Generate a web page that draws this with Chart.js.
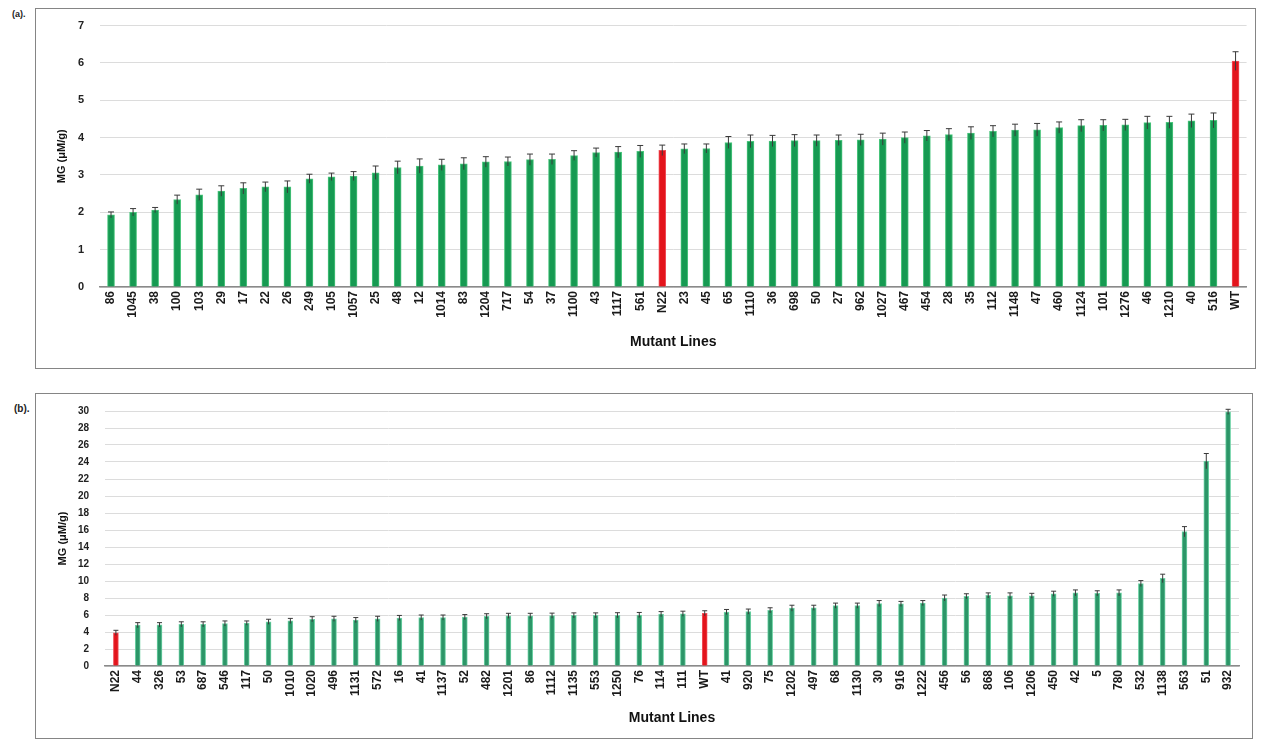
<!DOCTYPE html>
<html>
<head>
<meta charset="utf-8">
<script src="https://cdn.jsdelivr.net/npm/chart.js@4.4.1/dist/chart.umd.min.js"></script>
<style>
  html, body { margin: 0; padding: 0; background: #fff; }
  body { width: 1262px; height: 742px; position: relative; overflow: hidden; font-family: "Liberation Sans", Arial, sans-serif; }
  .panel { position: absolute; border: 1.5px solid #858585; box-sizing: border-box; }
  .tag { position: absolute; font-weight: bold; color: #222; }
  canvas { position: absolute; }
</style>
</head>
<body>
<div class="panel" style="left:35px;top:8px;width:1221px;height:361px;"></div>
<div class="panel" style="left:35px;top:393px;width:1218px;height:346px;"></div>
<div class="tag" style="left:12px;top:9px;font-size:9px;">(a).</div>
<div class="tag" style="left:14px;top:403px;font-size:10px;">(b).</div>
<canvas id="chartA" width="1216" height="364" style="left:38px;top:3px;"></canvas>
<canvas id="chartB" width="1213" height="348" style="left:38px;top:389px;"></canvas>
<script>
// Panel (a): MG content per line, ascending, with N22 and WT controls
const linesA = ["86","1045","38","100","103","29","17","22","26","249","105","1057","25","48","12","1014","83","1204","717","54","37","1100","43","1117","561","N22","23","45","65","1110","36","698","50","27","962","1027","467","454","28","35","112","1148","47","460","1124","101","1276","46","1210","40","516","WT"];
const mgA = [1.93,2.0,2.06,2.34,2.47,2.57,2.64,2.68,2.68,2.9,2.95,2.97,3.06,3.2,3.24,3.27,3.3,3.35,3.36,3.41,3.42,3.52,3.6,3.61,3.63,3.66,3.7,3.71,3.87,3.9,3.91,3.92,3.92,3.93,3.94,3.96,4.0,4.05,4.08,4.12,4.17,4.2,4.21,4.27,4.32,4.33,4.34,4.4,4.41,4.45,4.46,6.05];
const errA = [0.08,0.1,0.07,0.12,0.15,0.14,0.15,0.13,0.16,0.12,0.1,0.12,0.18,0.17,0.19,0.15,0.16,0.14,0.12,0.15,0.14,0.13,0.12,0.15,0.16,0.14,0.13,0.12,0.16,0.17,0.15,0.16,0.15,0.14,0.15,0.16,0.15,0.14,0.16,0.17,0.15,0.16,0.17,0.15,0.16,0.15,0.15,0.17,0.16,0.18,0.2,0.25];
const ticksA = [0,1,2,3,4,5,6,7];

// Panel (b)
const linesB = ["N22","44","326","53","687","546","117","50","1010","1020","496","1131","572","16","41","1137","52","482","1201","86","1112","1135","553","1250","76","114","111","WT","41","920","75","1202","497","68","1130","30","916","1222","456","56","868","106","1206","450","42","5","780","532","1138","563","51","932"];
const mgB = [3.9,4.8,4.85,4.9,4.9,5.0,5.05,5.2,5.3,5.5,5.55,5.4,5.55,5.65,5.7,5.7,5.75,5.85,5.9,5.9,5.92,5.95,5.95,5.97,6.0,6.1,6.15,6.2,6.35,6.4,6.55,6.8,6.85,7.1,7.1,7.35,7.3,7.4,8.0,8.2,8.3,8.25,8.25,8.5,8.6,8.55,8.6,9.7,10.3,15.8,24.1,29.9];
const errB = [0.3,0.3,0.25,0.3,0.3,0.3,0.25,0.3,0.3,0.3,0.3,0.3,0.3,0.3,0.3,0.3,0.3,0.3,0.3,0.3,0.3,0.3,0.3,0.3,0.3,0.3,0.3,0.3,0.3,0.3,0.3,0.35,0.3,0.3,0.3,0.35,0.3,0.3,0.35,0.3,0.3,0.35,0.3,0.3,0.35,0.3,0.35,0.35,0.5,0.6,0.9,0.3];
const ticksB = [0,2,4,6,8,10,12,14,16,18,20,22,24,26,28,30];

const controls = ["N22", "WT"];
const RED = "#e3141c";

// Draws ± error whiskers with caps on top of each bar, using the chart's own scales
const errorBars = {
  id: "errorBars",
  afterDatasetsDraw(chart, args, opts) {
    const { ctx } = chart;
    const yScale = chart.scales.y;
    chart.data.datasets.forEach((ds, di) => {
      const meta = chart.getDatasetMeta(di);
      meta.data.forEach((bar, i) => {
        const v = ds.data[i], e = ds.errors[i];
        const yHi = yScale.getPixelForValue(v + e);
        const yLo = yScale.getPixelForValue(v - e);
        ctx.save();
        ctx.strokeStyle = opts.color || "#444";
        ctx.lineWidth = 1;
        ctx.beginPath();
        ctx.moveTo(bar.x, yLo);
        ctx.lineTo(bar.x, yHi);
        ctx.moveTo(bar.x - opts.cap, yHi);
        ctx.lineTo(bar.x + opts.cap, yHi);
        ctx.stroke();
        ctx.restore();
      });
    });
  }
};

function makeChart(id, labels, values, errors, tickVals, cfg) {
  const colors = labels.map(l => controls.includes(l) ? RED : cfg.green);
  return new Chart(document.getElementById(id), {
    type: "bar",
    data: {
      labels: labels,
      datasets: [{
        data: values,
        errors: errors,
        backgroundColor: colors,
        borderColor: labels.map(l => controls.includes(l) ? "#f0505a" : cfg.edge),
        borderWidth: 1,
        barThickness: cfg.barWidth
      }]
    },
    options: {
      responsive: false,
      animation: false,
      events: [],
      layout: { padding: { top: cfg.padTop, right: cfg.padRight, bottom: 0, left: 0 } },
      plugins: {
        legend: { display: false },
        tooltip: { enabled: false },
        errorBars: { cap: cfg.cap, color: "#3a3a3a" }
      },
      scales: {
        x: {
          grid: { display: false, drawTicks: false },
          border: { display: true, color: "#8a8a8a", width: 1.5 },
          ticks: {
            autoSkip: false, maxRotation: 90, minRotation: 90, padding: 4,
            color: "#1a1a1a", font: { family: "Liberation Sans", size: 12, weight: "bold" }
          },
          title: {
            display: true, text: "Mutant Lines", color: "#111",
            font: { family: "Liberation Sans", size: 14, weight: "bold" },
            padding: { top: 0, bottom: cfg.titleBottom }
          },
          afterFit(s) { s.height = cfg.xHeight; }
        },
        y: {
          min: tickVals[0], max: tickVals[tickVals.length - 1],
          afterBuildTicks(s) { s.ticks = tickVals.map(v => ({ value: v })); },
          grid: { color: "#dcdcdc", lineWidth: 1, drawTicks: false },
          border: { display: false },
          ticks: {
            padding: cfg.yTickPad, color: "#222",
            font: { family: "Liberation Sans", size: cfg.yTickSize, weight: "bold" }
          },
          title: {
            display: true, text: "MG (μM/g)", color: "#111",
            font: { family: "Liberation Sans", size: 11, weight: "bold" },
            padding: { top: cfg.yTitlePad, bottom: 0 }
          },
          afterFit(s) { s.width = cfg.yWidth; }
        }
      }
    },
    plugins: [errorBars]
  });
}

makeChart("chartA", linesA, mgA, errA, ticksA, {
  green: "#169a52", edge: "#4cc67e", barWidth: 7, cap: 3, padTop: 10,
  padRight: 5, xHeight: 80, titleBottom: 16, yWidth: 62, yTickPad: 16, yTickSize: 11, yTitlePad: 17
});
makeChart("chartB", linesB, mgB, errB, ticksB, {
  green: "#2c9668", edge: "#6fd3a6", barWidth: 5, cap: 2.5, padTop: 11,
  padRight: 12, xHeight: 71, titleBottom: 10, yWidth: 67, yTickPad: 16, yTickSize: 10, yTitlePad: 18
});
</script>
</body>
</html>
